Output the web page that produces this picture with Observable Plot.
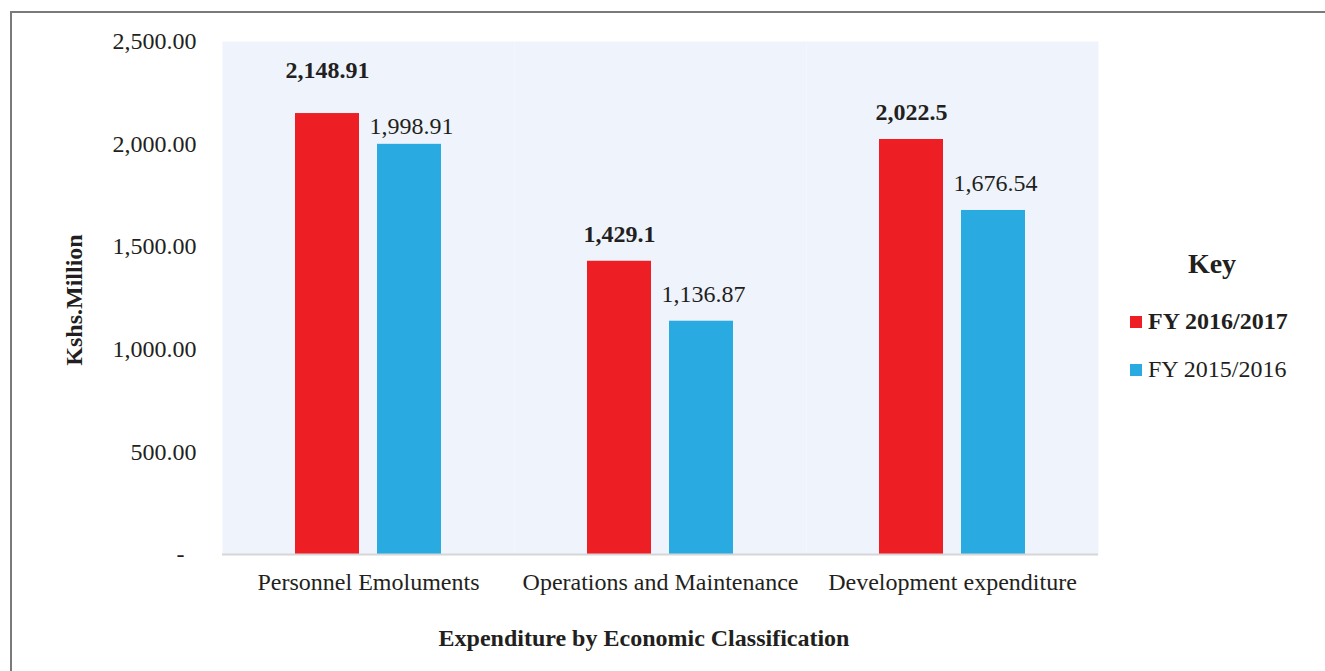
<!DOCTYPE html>
<html>
<head>
<meta charset="utf-8">
<script src="https://cdn.jsdelivr.net/npm/d3@7"></script>
<script src="https://cdn.jsdelivr.net/npm/@observablehq/plot@0.6"></script>
<style>
  body { margin: 0; background: #fff; font-family: "Liberation Serif", "Times New Roman", serif; color: #231f20; }
  #wrap { position: relative; width: 1325px; height: 671px; overflow: hidden; }
  #border { position: absolute; left: 10px; top: 11px; width: 1400px; height: 800px; border-left: 2px solid #7a7a7a; border-top: 2px solid #7a7a7a; box-sizing: border-box; }
  #chart { position: absolute; left: 0; top: 0; }
  #ytitle { position: absolute; left: 74px; top: 300px; transform: translate(-50%, -50%) rotate(-90deg); font-weight: bold; font-size: 24px; white-space: nowrap; }
  #xtitle { position: absolute; left: 644px; top: 638px; transform: translate(-50%, -50%); font-weight: bold; font-size: 24px; white-space: nowrap; }
  #legend { position: absolute; left: 1130px; top: 248px; }
  #legend .key { font-weight: bold; font-size: 28px; position: absolute; left: 82px; top: 0; transform: translateX(-50%); }
  #legend .item { position: absolute; left: 0; font-size: 24px; white-space: nowrap; display: flex; align-items: center; }
  #legend .sw { width: 12px; height: 12px; margin-right: 6px; display: inline-block; }
</style>
</head>
<body>
<div id="wrap">
  <div id="border"></div>
  <div id="chart"></div>
  <div id="ytitle"></div>
  <div id="xtitle"></div>
  <div id="legend"></div>
</div>
<script>
const categories = ["Personnel Emoluments", "Operations and Maintenance", "Development expenditure"];
const series = ["FY 2016/2017", "FY 2015/2016"];
const fy2016_2017 = [2148.91, 1429.1, 2022.5];
const fy2015_2016 = [1998.91, 1136.87, 1676.54];
const yTicks = [0, 500, 1000, 1500, 2000, 2500];
const yTitle = "Kshs.Million";
const xTitle = "Expenditure by Economic Classification";
const legendTitle = "Key";

const RED = "#ed1f24";
const BLUE = "#29abe2";
const INK = "#231f20";

const data = [];
categories.forEach((c, i) => {
  data.push({category: c, series: series[0], value: fy2016_2017[i]});
  data.push({category: c, series: series[1], value: fy2015_2016[i]});
});

const fmtLabel = d3.format(",");
const fmtTick = d => d === 0 ? "-\u2002" : d3.format(",.2f")(d);

const isFirst = d => d.category === categories[0];

const chart = Plot.plot({
  width: 1325,
  height: 671,
  marginLeft: 222,
  marginRight: 227,
  marginTop: 41,
  marginBottom: 117,
  style: {fontFamily: '"Liberation Serif", "Times New Roman", serif', fontSize: "24px", color: INK, background: "transparent", overflow: "visible"},
  fx: {domain: categories, padding: 0, label: null},
  x: {domain: series, paddingInner: 0.217, paddingOuter: 0.868, axis: null},
  y: {domain: [0, 2500], label: null},
  color: {domain: series, range: [RED, BLUE]},
  marks: [
    Plot.frame({fill: "#eff4fc", stroke: "none"}),
    Plot.barY(data, {fx: "category", x: "series", y: "value", fill: "series"}),
    Plot.ruleY([0], {stroke: "#d6d6d8", strokeWidth: 2}),
    Plot.axisY({ticks: yTicks, tickFormat: fmtTick, tickSize: 0, tickPadding: 26, fontSize: 24, fill: INK, label: null}),
    Plot.axisFx({anchor: "bottom", tickSize: 0, tickPadding: 18, fontSize: 24, fill: INK, label: null}),
    Plot.text(data, {filter: d => d.series === series[0] && !isFirst(d), fx: "category", x: "series", y: "value", text: d => fmtLabel(d.value), dy: -27, fontWeight: "bold", fontSize: 24, fill: INK}),
    Plot.text(data, {filter: d => d.series === series[0] && isFirst(d), fx: "category", x: "series", y: "value", text: d => fmtLabel(d.value), dy: -43, fontWeight: "bold", fontSize: 24, fill: INK}),
    Plot.text(data, {filter: d => d.series === series[1] && !isFirst(d), fx: "category", x: "series", y: "value", text: d => fmtLabel(d.value), dy: -27, dx: 2, fontSize: 24, fill: INK}),
    Plot.text(data, {filter: d => d.series === series[1] && isFirst(d), fx: "category", x: "series", y: "value", text: d => fmtLabel(d.value), dy: -18, dx: 2, fontSize: 24, fill: INK})
  ]
});
document.getElementById("chart").appendChild(chart);

document.getElementById("ytitle").textContent = yTitle;
document.getElementById("xtitle").textContent = xTitle;

const legend = document.getElementById("legend");
const key = document.createElement("div");
key.className = "key";
key.textContent = legendTitle;
legend.appendChild(key);
series.forEach((s, i) => {
  const item = document.createElement("div");
  item.className = "item";
  item.style.top = (60 + i * 48) + "px";
  if (i === 0) item.style.fontWeight = "bold";
  const sw = document.createElement("span");
  sw.className = "sw";
  sw.style.background = [RED, BLUE][i];
  const t = document.createElement("span");
  t.textContent = s;
  item.appendChild(sw);
  item.appendChild(t);
  legend.appendChild(item);
});
</script>
</body>
</html>
